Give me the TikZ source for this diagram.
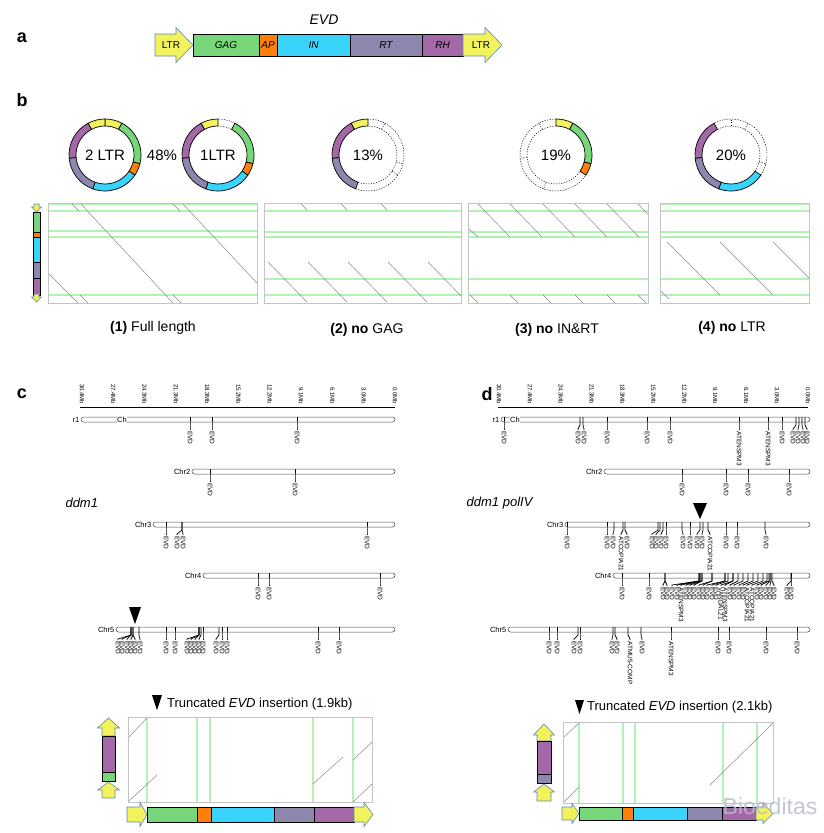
\documentclass[tikz,border=0pt]{standalone}
\usepackage{fontspec}
\setmainfont{Liberation Sans}
\usetikzlibrary{calc}

\definecolor{ltrc}{HTML}{F2F25C}
\definecolor{ltredge}{HTML}{5B86BF}
\definecolor{gagc}{HTML}{77D57A}
\definecolor{apc}{HTML}{FF7F0A}
\definecolor{inc}{HTML}{3AD3FA}
\definecolor{rtc}{HTML}{8D87AE}
\definecolor{rhc}{HTML}{A468A8}
\definecolor{hitc}{HTML}{8A8A8A}
\definecolor{ltrhitc}{HTML}{B2F2B2}
\definecolor{framec}{HTML}{C4C4C4}
\definecolor{markc}{HTML}{B5BDCB}

\newcommand\ltrR[6]{\draw[ltr] (#1,#4-#5) -- (#2,#4-#5) -- (#2,#4-#6) -- (#3,#4) -- (#2,#4+#6) -- (#2,#4+#5) -- (#1,#4+#5) -- cycle;}
\newcommand\ltrV[6]{\draw[ltr] (#1-#5,#2) -- (#1-#5,#3) -- (#1-#6,#3) -- (#1,#4) -- (#1+#6,#3) -- (#1+#5,#3) -- (#1+#5,#2) -- cycle;}
\newcommand\ringseg[4]{\draw[ring, fill=#4] ($(#1)+(#2:36pt)$) arc[start angle=#2, end angle=#3, radius=36pt] -- ($(#1)+(#3:29pt)$) arc[start angle=#3, end angle=#2, radius=29pt] -- cycle;}
\newcommand\ringgap[3]{\draw[gap] ($(#1)+(#2:36pt)$) arc[start angle=#2, end angle=#3, radius=36pt]; \draw[gap] ($(#1)+(#2:29pt)$) arc[start angle=#2, end angle=#3, radius=29pt];}
\newcommand\ringtick[2]{\draw[gap] ($(#1)+(#2:29pt)$) -- ($(#1)+(#2:36pt)$);}
\newcommand\feats[2]{\foreach \t/\l/\lab in {#2}{\draw[lead] (\t,#1) -- (\t,#1+8) -- (\l,#1+12) -- (\l,#1+13); \node[evdlab] at (\l,#1+14) {\lab};}}

\begin{document}
\begin{tikzpicture}[x=1pt, y=-1pt,
    panel/.style={font=\fontsize{18}{18}\selectfont\bfseries},
    seg/.style={draw=black, line width=0.7pt, font=\fontsize{10}{10}\selectfont\itshape},
    ltr/.style={draw=ltredge, fill=ltrc, line width=0.6pt},
    ring/.style={draw=black, line width=0.7pt},
    gap/.style={draw=black, line width=0.45pt, dash pattern=on 1.3pt off 1.3pt},
    pct/.style={font=\fontsize{15}{15}\selectfont},
    hit/.style={draw=hitc, line width=0.5pt},
    ltrhit/.style={draw=ltrhitc, line width=1.3pt},
    plotframe/.style={draw=framec, line width=0.8pt},
    caption/.style={font=\fontsize{14}{14}\selectfont},
    axislab/.style={font=\fontsize{6}{6}\selectfont, rotate=-90, anchor=east, inner sep=0.5pt},
    chrbar/.style={draw=black!70, line width=0.5pt, rounded corners=2.5pt, fill=white},
    chrlab/.style={font=\fontsize{7.5}{7.5}\selectfont, anchor=east, inner sep=0.5pt},
    lead/.style={line width=0.7pt},
    evdlab/.style={font=\fontsize{6.5}{6.5}\selectfont, rotate=-90, anchor=west, inner sep=0pt},
    strain/.style={font=\fontsize{13}{13}\selectfont\itshape},
    trunc/.style={font=\fontsize{13}{13}\selectfont, anchor=west, inner sep=0pt}
]
\useasboundingbox (0,0) rectangle (824,833);

\node[panel] (pa) at (22,38) {a};
\node[font=\fontsize{14}{14}\selectfont\itshape] (evd) at (324,20) {EVD};
\ltrR{155}{176}{193}{45}{11}{17.5}
\node[font=\fontsize{10}{10}\selectfont] (ltra) at (171,45) {LTR};
\draw[seg, fill=gagc] (193,34) rectangle node (gag) {GAG} (259,56);
\draw[seg, fill=apc] (259,34) rectangle node (ap) {AP} (277,56);
\draw[seg, fill=inc] (277,34) rectangle node (in) {IN} (350,56);
\draw[seg, fill=rtc] (350,34) rectangle node (rt) {RT} (422,56);
\draw[seg, fill=rhc] (422,34) rectangle node (rh) {RH} (463,56);
\ltrR{463}{485}{502}{45}{11}{17.5}
\node[font=\fontsize{10}{10}\selectfont] (ltrb) at (481,45) {LTR};

\node[panel] (pb) at (22,100) {b};
\coordinate (r1) at (105,155);
\coordinate (r2) at (218,155);
\coordinate (r3) at (368,155);
\coordinate (r4) at (556,155);
\coordinate (r5) at (731,155);
\foreach \a/\b/\c in {62/90/ltrc, 90/118/ltrc, -14/62/gagc, -34/-14/apc, -110/-34/inc, 185/250/rtc, 118/185/rhc}
    \ringseg{r1}{\a}{\b}{\c};
\foreach \a/\b/\c in {90/118/ltrc, -14/62/gagc, -34/-14/apc, -110/-34/inc, 185/250/rtc, 118/185/rhc}
    \ringseg{r2}{\a}{\b}{\c};
\ringgap{r2}{62}{90}
\foreach \a/\b/\c in {90/118/ltrc, 185/250/rtc, 118/185/rhc}
    \ringseg{r3}{\a}{\b}{\c};
\ringgap{r3}{-110}{90}
\foreach \a in {-34,-14,62} \ringtick{r3}{\a};
\foreach \a/\b/\c in {62/90/ltrc, -14/62/gagc, -34/-14/apc}
    \ringseg{r4}{\a}{\b}{\c};
\ringgap{r4}{90}{326}
\foreach \a in {118,185,250} \ringtick{r4}{\a};
\foreach \a/\b/\c in {250/326/inc, 185/250/rtc, 118/185/rhc}
    \ringseg{r5}{\a}{\b}{\c};
\ringgap{r5}{-34}{118}
\foreach \a in {-14,62,90} \ringtick{r5}{\a};
\node[pct] (t1) at (r1) {2 LTR};
\node[pct] (t48) at (162,155) {48\%};
\node[pct] (t2) at (r2) {1LTR};
\node[pct] (t3) at (r3) {13\%};
\node[pct] (t4) at (r4) {19\%};
\node[pct] (t5) at (r5) {20\%};

\foreach \a/\b/\c in {212/232/gagc, 232/237/apc, 237/262/inc, 262/278/rtc, 278/295/rhc}
    \draw[seg, line width=0.5pt, fill=\c] (33,\a) rectangle (40,\b);
\ltrV{36.5}{204}{207}{212}{2.5}{5}
\ltrV{36.5}{294}{297}{302}{2.5}{5}

\begin{scope}
    \clip (48,203) rectangle (257,303);
    \foreach \y in {204,211,231,237,295} \draw[ltrhit] (48,\y) -- (257,\y);
    \foreach \a/\b/\c/\d in {71/203/79/211, 80/203/173/303, 172/203/180/211, 182/203/257/283, 49/274/78/303, 80/295/88/303, 173/295/181/303}
        \draw[hit] (\a,\b) -- (\c,\d);
\end{scope}
\draw[plotframe] (48,203) rectangle (257,303);
\begin{scope}
    \clip (264,203) rectangle (461,303);
    \foreach \y in {211,232,237,279,295} \draw[ltrhit] (264,\y) -- (461,\y);
    \foreach \s in {300,340,380} \draw[hit] (\s,203) -- (\s+7,210);
    \foreach \s in {268,308,348,388,428} \draw[hit] (\s,262) -- (\s+39,302);
\end{scope}
\draw[plotframe] (264,203) rectangle (461,303);
\begin{scope}
    \clip (468,203) rectangle (648,303);
    \foreach \y in {211,232,237,279,295} \draw[ltrhit] (468,\y) -- (648,\y);
    \foreach \s in {478,510,543,575,607,638} \draw[hit] (\s,204) -- (\s+32,237);
    \draw[hit] (468,228) -- (478,237);
    \foreach \s in {470,510,543,575,607,638} \draw[hit] (\s,295) -- (\s+8,303);
\end{scope}
\draw[plotframe] (468,203) rectangle (648,303);
\begin{scope}
    \clip (660,203) rectangle (809,303);
    \foreach \y in {204,211,232,237,279,295} \draw[ltrhit] (660,\y) -- (809,\y);
    \foreach \s in {667,720,773} \draw[hit] (\s,242) -- (\s+53,295);
    \draw[hit] (661,291) -- (669,299);
\end{scope}
\draw[plotframe] (660,203) rectangle (809,303);

\node[caption] (c1) at (153,328) {\textbf{(1)} Full length};
\node[caption] (c2) at (367,330) {\textbf{(2) no} GAG};
\node[caption] (c3) at (557,330) {\textbf{(3) no} IN\&RT};
\node[caption] (c4) at (732,328) {\textbf{(4) no} LTR};

\node[panel] (pc) at (22,394) {c};
\draw[line width=1pt] (80,407) -- (395,407);
\foreach \i/\mb in {0/30.4,1/27.4,2/24.3,3/21.3,4/18.3,5/15.2,6/12.2,7/9.1,8/6.1,9/3.0,10/0.0}
    \node[axislab] at (82+\i*31.3,405) {\mb Mb};
\draw[chrbar] (81,417) rectangle (395,422);
\node[chrlab] (c1l) at (80,419.5) {r1};
\node[font=\fontsize{7.5}{7.5}\selectfont, fill=white, inner sep=0.3pt] (c1m) at (122,419.5) {Ch};
\feats{417}{190/190/EVD, 212/212/EVD, 297/297/EVD}
\draw[chrbar] (192,469) rectangle (395,474);
\node[chrlab] (c2l) at (191,471.5) {Chr2};
\feats{469}{210/210/EVD, 295/295/EVD}
\node[strain, anchor=west] (ddm) at (62,503) {ddm1};
\draw[chrbar] (153,522) rectangle (395,527);
\node[chrlab] (c3l) at (152,524.5) {Chr3};
\feats{522}{166/166/EVD, 182/177/EVD, 182/183/EVD, 367/367/EVD}
\draw[chrbar] (203,573) rectangle (395,578);
\node[chrlab] (c4l) at (202,575.5) {Chr4};
\feats{573}{258/258/EVD, 269/269/EVD, 380/380/EVD}
\draw[chrbar] (116,627) rectangle (395,632);
\node[chrlab] (c5l) at (115,629.5) {Chr5};
\feats{627}{131/118/EVD, 131/122/EVD, 131/127/EVD, 133/131/EVD, 133/135/EVD, 139/140/EVD, 166/166/EVD, 175/175/EVD, 199/187/EVD, 199/191/EVD, 199/195/EVD, 201/199/EVD, 203/203/EVD, 219/216/EVD, 222/222/EVD, 227/227/EVD, 318/318/EVD, 339/339/EVD}
\fill (129,607) -- (141,607) -- (135,624) -- cycle;

\node[panel] (pd) at (487,394) {d};
\draw[line width=1pt] (498,407) -- (808,407);
\foreach \i/\mb in {0/30.4,1/27.4,2/24.3,3/21.3,4/18.3,5/15.2,6/12.2,7/9.1,8/6.1,9/3.0,10/0.0}
    \node[axislab] at (499+\i*30.9,405) {\mb Mb};
\draw[chrbar] (501,417) rectangle (810,422);
\node[chrlab] (d1l) at (500,419.5) {r1};
\node[font=\fontsize{7.5}{7.5}\selectfont, fill=white, inner sep=0.3pt] (d1m) at (515,419.5) {Ch};
\feats{417}{504/504/EVD, 580/578/EVD, 583/584/EVD, 607/607/EVD, 647/647/EVD, 670/670/EVD, 739/739/ATENSPM3, 768/768/ATENSPM3, 782/782/EVD, 796/793/EVD, 799/798/EVD, 802/803/EVD, 805/807/EVD}
\draw[chrbar] (604,469) rectangle (810,474);
\node[chrlab] (d2l) at (603,471.5) {Chr2};
\feats{469}{682/682/EVD, 726/726/EVD, 748/748/EVD, 789/789/EVD}
\node[strain, anchor=east] (ddmp) at (536,503) {ddm1 polIV};
\fill (693,503) -- (707,503) -- (700,519) -- cycle;
\draw[chrbar] (565,522) rectangle (810,527);
\node[chrlab] (d3l) at (564,524.5) {Chr3};
\feats{522}{567/567/EVD, 607/607/EVD, 614/613/EVD, 623/621/ATCOPIA21, 625/627/EVD, 658/652/EVD, 660/656/EVD, 663/661/EVD, 666/666/EVD, 682/683/EVD, 690/690/EVD, 700/697/EVD, 703/702/EVD, 708/710/ATCOPIA21, 726/726/EVD, 737/737/EVD, 765/766/EVD}
\draw[chrbar] (613,573) rectangle (810,578);
\node[chrlab] (d4l) at (612,575.5) {Chr4};
\feats{573}{622/622/EVD, 649/649/EVD, 665/663/EVD, 665/667/EVD, 699/672/EVD, 699/677/EVD, 700/681/ATENSPM3, 700/686/EVD, 702/690/EVD, 702/694/EVD, 712/699/EVD, 712/703/EVD, 725/707/EVD, 725/712/EVD, 728/716/EVD, 733/721/VANDAL21, 733/725/ATENSPM3, 738/730/EVD, 743/734/EVD, 748/739/EVD, 753/743/EVD, 758/747/ATCOPIA21, 763/752/ATCOPIA21, 767/757/EVD, 769/761/EVD, 770/766/EVD, 771/770/EVD, 772/774/EVD, 791/787/EVD, 791/791/EVD}
\draw[chrbar] (508,627) rectangle (810,632);
\node[chrlab] (d5l) at (507,629.5) {Chr5};
\feats{627}{549/549/EVD, 557/557/EVD, 578/574/EVD, 580/580/EVD, 613/612/EVD, 615/617/EVD, 628/630/ATMU5-COMP, 641/642/EVD, 671/671/ATENSPM3, 718/718/EVD, 729/729/EVD, 766/766/EVD, 797/797/EVD}

\fill (152,695) -- (162,695) -- (157,710) -- cycle;
\node[trunc] (tr1) at (167,704) {Truncated \textit{EVD} insertion (1.9kb)};
\begin{scope}
    \clip (128,717) rectangle (372,802);
    \foreach \x in {147,197,210,313,353} \draw[ltrhit] (\x,717) -- (\x,802);
    \foreach \a/\b/\c/\d in {129/737/147/718, 129/801/157/775, 313/784/343/757, 353/760/372/742, 353/802/372/784}
        \draw[hit] (\a,\b) -- (\c,\d);
\end{scope}
\draw[plotframe] (128,717) rectangle (372,802);
\ltrV{108.5}{736}{728}{718}{6.5}{11}
\draw[seg, fill=rhc] (102,736) rectangle (115,772);
\draw[seg, fill=gagc] (102,772) rectangle (115,781);
\ltrV{108.5}{798}{790}{782}{6.5}{11}
\ltrR{127}{140}{147}{814.5}{7.5}{12}
\foreach \a/\b/\c in {147/197/gagc, 197/211/apc, 211/274/inc, 274/314/rtc, 314/354/rhc}
    \draw[seg, fill=\c] (\a,807) rectangle (\b,822);
\ltrR{354}{364}{373}{814.5}{7.5}{12}

\fill (575,700) -- (584,700) -- (579.5,714) -- cycle;
\node[trunc] (tr2) at (587,707) {Truncated \textit{EVD} insertion (2.1kb)};
\begin{scope}
    \clip (563,722) rectangle (773,803);
    \foreach \x in {579,623,635,723,757} \draw[ltrhit] (\x,722) -- (\x,803);
    \foreach \a/\b/\c/\d in {564/737/579/723, 710/785/773/723, 564/802/579/787}
        \draw[hit] (\a,\b) -- (\c,\d);
\end{scope}
\draw[plotframe] (563,722) rectangle (773,803);
\ltrV{544}{741}{735}{724}{7}{10.5}
\draw[seg, fill=rhc] (537,741) rectangle (551,774);
\draw[seg, fill=rtc] (537,774) rectangle (551,783);
\ltrV{544}{801}{792}{784}{7}{10.5}
\ltrR{562}{572}{579}{813.5}{6.5}{10}
\foreach \a/\b/\c in {579/622/gagc, 622/633/apc, 633/687/inc, 687/722/rtc, 722/756/rhc}
    \draw[seg, fill=\c] (\a,807) rectangle (\b,820);
\ltrR{756}{763}{773}{813.5}{6.5}{10}
\node[font=\fontsize{23}{23}\selectfont, text=markc, opacity=0.85] (mark) at (770,806) {Bioeditas};

\end{tikzpicture}
\end{document}
